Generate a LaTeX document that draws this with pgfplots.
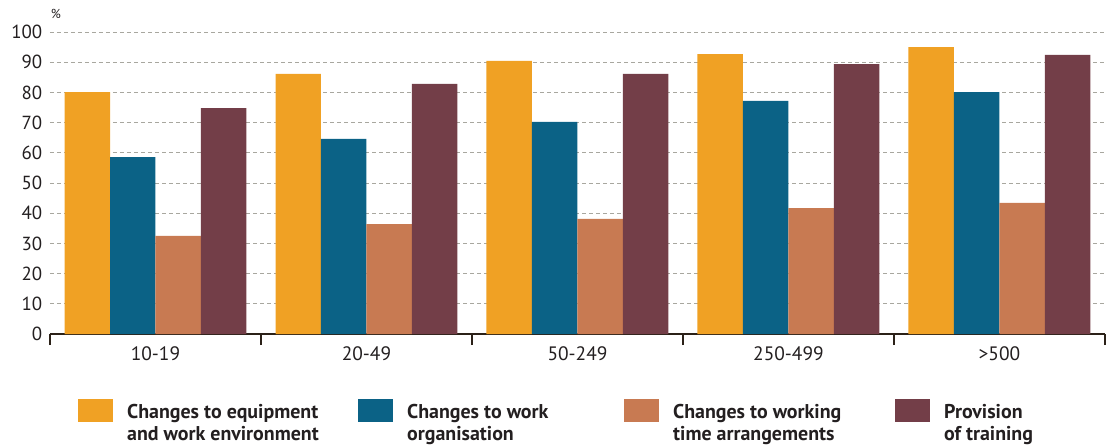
\documentclass[border=0pt]{standalone}
\usepackage{pgfplots}
\pgfplotsset{compat=1.18}
\usepackage{fontspec}
\setmainfont{PT Sans}

\definecolor{cEquip}{HTML}{F0A124}
\definecolor{cOrg}{HTML}{0B6286}
\definecolor{cTime}{HTML}{C87A52}
\definecolor{cTrain}{HTML}{733E48}
\definecolor{axisc}{HTML}{2B2118}
\definecolor{gridc}{HTML}{A8A79F}
\definecolor{textc}{HTML}{231F20}

\begin{document}
\begin{tikzpicture}
\useasboundingbox (-50bp,-114bp) rectangle (1063bp,334bp);
\begin{axis}[
  scale only axis,
  width=1055bp, height=302bp,
  xmin=-0.5, xmax=4.5, ymin=0, ymax=100,
  clip=false,
  axis x line*=bottom, axis y line*=left,
  y axis line style={draw=none},
  x axis line style={draw=axisc, line width=1.6bp},
  ytick={0,10,...,100}, ytick style={draw=none},
  ymajorgrids,
  major grid style={draw=gridc, dash pattern=on 4bp off 3bp, line width=0.9bp},
  xtick={0,...,4},
  xticklabels={10-19,20-49,50-249,250-499,>500},
  major x tick style={draw=none},
  minor xtick={-0.5,0.5,...,4.5},
  minor x tick style={draw=axisc, line width=1.2bp},
  minor tick length=11bp, tick align=outside,
  /pgf/number format/assume math mode=true,
  yticklabel style={font=\fontsize{19}{21}\selectfont, text=textc},
  xticklabel style={font=\fontsize{19.5}{21}\selectfont, text=textc, yshift=-5bp},
  ybar=0pt, bar width=0.2156,
  legend columns=4,
  legend style={at={(0.02654,-0.2152)}, anchor=north west, draw=none,
    inner sep=0pt, column sep=0pt,
    cells={anchor=base west},
    nodes={inner sep=0pt, text=textc,
      font=\fontsize{20}{22}\selectfont\bfseries},
    /tikz/every odd column/.style={column sep=14bp}},
  legend image code/.code={\fill[#1] (0bp,-4bp) rectangle (35bp,19bp);},
]
\addplot[fill=cEquip, draw=none, bar shift=-0.3234] coordinates {(0,80.1) (1,86.1) (2,90.4) (3,92.7) (4,95.0)};
\addlegendentry{\parbox[t]{231bp}{Changes to equipment\\and work environment}}
\addplot[fill=cOrg, draw=none, bar shift=-0.1078] coordinates {(0,58.6) (1,64.6) (2,70.2) (3,77.2) (4,80.1)};
\addlegendentry{\parbox[t]{217bp}{Changes to work\\organisation}}
\addplot[fill=cTime, draw=none, bar shift=0.1078] coordinates {(0,32.5) (1,36.4) (2,38.1) (3,41.7) (4,43.4)};
\addlegendentry{\parbox[t]{222bp}{Changes to working\\time arrangements}}
\addplot[fill=cTrain, draw=none, bar shift=0.3234] coordinates {(0,74.8) (1,82.8) (2,86.1) (3,89.4) (4,92.4)};
\addlegendentry{\parbox[t]{110bp}{Provision\\of training}}
\node[font=\fontsize{13}{15}\selectfont, text=textc] at ([xshift=6bp, yshift=18bp]rel axis cs:0,1) {\%};
\end{axis}
\end{tikzpicture}
\end{document}
